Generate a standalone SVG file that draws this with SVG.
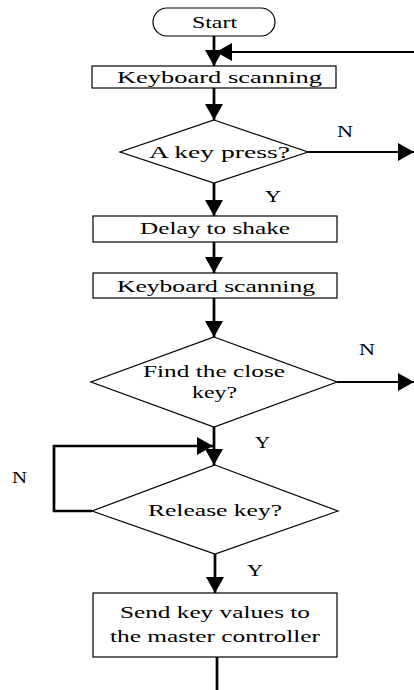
<svg xmlns="http://www.w3.org/2000/svg" width="414" height="690" viewBox="0 0 414 690">
<style>
.box{fill:#fff;stroke:#000;stroke-width:1.2}
.t{font-family:"Liberation Serif","Times New Roman",serif;font-size:17px;fill:#000}
.c{fill:none;stroke:#000;stroke-width:2.7}
.cn{fill:none;stroke:#000;stroke-width:2}
</style>
<defs>
<marker id="ah" viewBox="0 0 16 18" refX="16" refY="9" markerWidth="16" markerHeight="18" markerUnits="userSpaceOnUse" orient="auto">
<path d="M0,0 L16,9 L0,18 Z" fill="#000"/>
</marker>
</defs>
<rect width="414" height="690" fill="#fff"/>
<g id="connectors">
<line class="c" x1="214" y1="36" x2="214" y2="66" marker-end="url(#ah)"/>
<line class="cn" x1="414" y1="52" x2="216" y2="52" marker-end="url(#ah)"/>
<line class="c" x1="214" y1="88" x2="214" y2="120" marker-end="url(#ah)"/>
<line class="cn" x1="308" y1="152" x2="414" y2="152" marker-end="url(#ah)"/>
<line class="c" x1="214" y1="183" x2="214" y2="216" marker-end="url(#ah)"/>
<line class="c" x1="214" y1="242" x2="214" y2="273" marker-end="url(#ah)"/>
<line class="c" x1="214" y1="298" x2="214" y2="337" marker-end="url(#ah)"/>
<line class="cn" x1="337" y1="382" x2="414" y2="382" marker-end="url(#ah)"/>
<line class="c" x1="214" y1="427" x2="214" y2="465" marker-end="url(#ah)"/>
<path class="c" d="M92,511 H54 V446 H213" marker-end="url(#ah)"/>
<line class="c" x1="215" y1="554" x2="215" y2="593" marker-end="url(#ah)"/>
<line class="c" x1="217" y1="657" x2="217" y2="690"/>
<text class="t" x="337" y="137" textLength="16" lengthAdjust="spacingAndGlyphs">N</text>
<text class="t" x="265" y="202" textLength="16" lengthAdjust="spacingAndGlyphs">Y</text>
<text class="t" x="359" y="355" textLength="16" lengthAdjust="spacingAndGlyphs">N</text>
<text class="t" x="255" y="448" textLength="15" lengthAdjust="spacingAndGlyphs">Y</text>
<text class="t" x="12" y="483" textLength="15" lengthAdjust="spacingAndGlyphs">N</text>
<text class="t" x="247" y="576" textLength="16" lengthAdjust="spacingAndGlyphs">Y</text>
</g>
<g id="start">
<rect class="box" x="153" y="8" width="122" height="28" rx="14"/>
<text class="t" x="192" y="28" textLength="45" lengthAdjust="spacingAndGlyphs">Start</text>
</g>
<g id="scan1">
<rect class="box" x="92" y="66" width="244" height="22"/>
<text class="t" x="117" y="83" textLength="205" lengthAdjust="spacingAndGlyphs">Keyboard scanning</text>
</g>
<g id="keypress">
<polygon class="box" points="214,120 308,152 214,183 120,152"/>
<text class="t" x="149" y="158" textLength="141" lengthAdjust="spacingAndGlyphs">A key press?</text>
</g>
<g id="delay">
<rect class="box" x="93" y="216" width="244" height="26"/>
<text class="t" x="140" y="234" textLength="150" lengthAdjust="spacingAndGlyphs">Delay to shake</text>
</g>
<g id="scan2">
<rect class="box" x="93" y="273" width="244" height="25"/>
<text class="t" x="117" y="292" textLength="198" lengthAdjust="spacingAndGlyphs">Keyboard scanning</text>
</g>
<g id="findkey">
<polygon class="box" points="214,337 337,382 214,427 91,382"/>
<text class="t" x="143" y="377" textLength="142" lengthAdjust="spacingAndGlyphs">Find the close</text>
<text class="t" x="192" y="398" textLength="45" lengthAdjust="spacingAndGlyphs">key?</text>
</g>
<g id="release">
<polygon class="box" points="215,465 338,511 215,554 92,511"/>
<text class="t" x="148" y="516" textLength="134" lengthAdjust="spacingAndGlyphs">Release key?</text>
</g>
<g id="send">
<rect class="box" x="93" y="593" width="244" height="64"/>
<text class="t" x="120" y="618" textLength="190" lengthAdjust="spacingAndGlyphs">Send key values to</text>
<text class="t" x="110" y="642" textLength="210" lengthAdjust="spacingAndGlyphs">the master controller</text>
</g>
</svg>
